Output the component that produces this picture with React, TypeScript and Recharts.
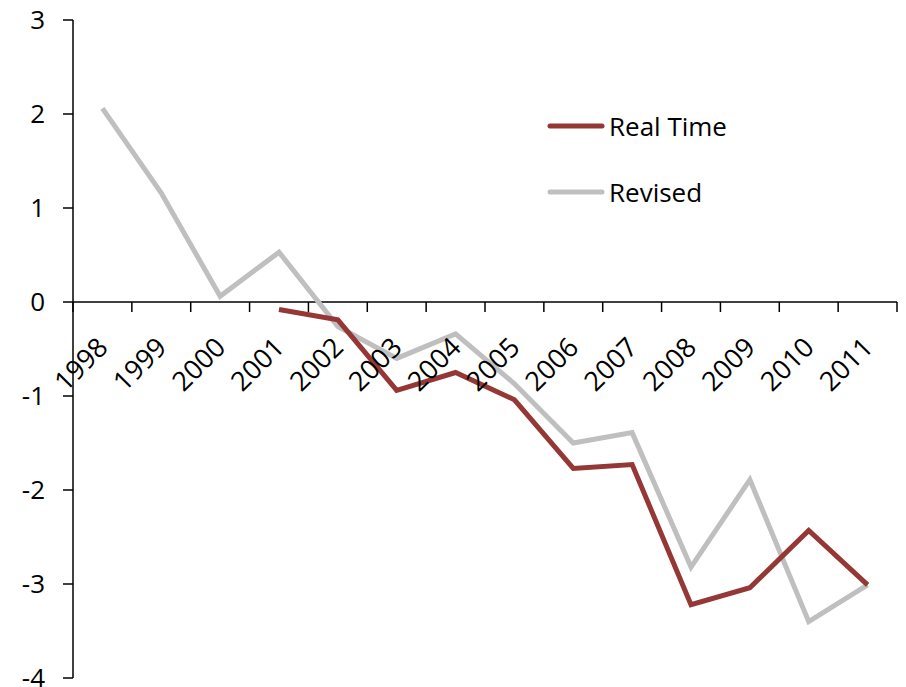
import React from "react";
import {
  LineChart,
  Line,
  XAxis,
  YAxis,
  ReferenceLine,
  ReferenceDot,
  Legend,
} from "recharts";

const years = [
  "1998", "1999", "2000", "2001", "2002", "2003", "2004",
  "2005", "2006", "2007", "2008", "2009", "2010", "2011",
];
const realTime = [
  null, null, null, -0.08, -0.19, -0.94, -0.75,
  -1.04, -1.77, -1.73, -3.22, -3.04, -2.43, -3.01,
];
const revised = [
  2.06, 1.16, 0.06, 0.53, -0.26, -0.6, -0.34,
  -0.87, -1.5, -1.39, -2.82, -1.89, -3.4, -3.01,
];
const yTicks = [-4, -3, -2, -1, 0, 1, 2, 3];

const FONT = "'Open Sans', sans-serif";
const RED = "#953735";
const GREY = "#BFBFBF";

// categories sit in the middle of each unit slot, tick marks on the slot edges
const data = years.map((year, i) => ({
  pos: i + 0.5,
  year,
  realTime: realTime[i],
  revised: revised[i],
}));
const boundaries = years.map((_, i) => i).concat(years.length);

const TickMark = (props: any) => {
  const { cx, cy } = props;
  return <line x1={cx} y1={cy} x2={cx} y2={cy + 10} stroke="#000" strokeWidth={1.5} />;
};

const YearLabel = (label: string) => (props: any) => {
  const { cx, cy } = props;
  const x = cx + 7;
  const y = cy + 47;
  return (
    <text
      x={x}
      y={y}
      textAnchor="end"
      fontFamily={FONT}
      fontSize={27}
      fill="#000"
      transform={`rotate(-45 ${x} ${y})`}
    >
      {label}
    </text>
  );
};

const LegendBox = () => (
  <div style={{ fontFamily: FONT, fontSize: 26, color: "#000" }}>
    {[
      { name: "Real Time", color: RED },
      { name: "Revised", color: GREY },
    ].map((item) => (
      <div
        key={item.name}
        style={{ display: "flex", alignItems: "center", height: 66 }}
      >
        <svg width={58} height={8} style={{ marginRight: 4 }}>
          <line x1={3} y1={4} x2={55} y2={4} stroke={item.color} strokeWidth={5} strokeLinecap="round" />
        </svg>
        <span>{item.name}</span>
      </div>
    ))}
  </div>
);

export default function App() {
  return (
    <div style={{ position: "absolute", left: 0, top: 0, background: "#fff" }}>
      <LineChart
        width={906}
        height={687}
        data={data}
        margin={{ top: 20, right: 9, bottom: 9, left: 13 }}
      >
        <XAxis dataKey="pos" type="number" domain={[0, years.length]} hide />
        <YAxis
          domain={[-4, 3]}
          ticks={yTicks}
          interval={0}
          width={60}
          axisLine={{ stroke: "#000", strokeWidth: 1.5 }}
          tickLine={{ stroke: "#000", strokeWidth: 1.5 }}
          tickSize={10}
          tickMargin={18}
          tick={{ fill: "#000", fontFamily: FONT, fontSize: 26 }}
        />
        <ReferenceLine y={0} stroke="#000" strokeWidth={1.5} />
        {boundaries.map((b) => (
          <ReferenceDot key={`t${b}`} x={b} y={0} r={0} shape={TickMark} />
        ))}
        {data.map((d) => (
          <ReferenceDot key={`l${d.year}`} x={d.pos} y={0} r={0} shape={YearLabel(d.year)} />
        ))}
        <Line
          dataKey="revised"
          stroke={GREY}
          strokeWidth={5}
          dot={false}
          isAnimationActive={false}
        />
        <Line
          dataKey="realTime"
          stroke={RED}
          strokeWidth={5}
          dot={false}
          isAnimationActive={false}
        />
        <Legend
          content={<LegendBox />}
          layout="vertical"
          align="center"
          verticalAlign="middle"
          wrapperStyle={{ left: 547, top: 93, width: 200 }}
        />
      </LineChart>
    </div>
  );
}
